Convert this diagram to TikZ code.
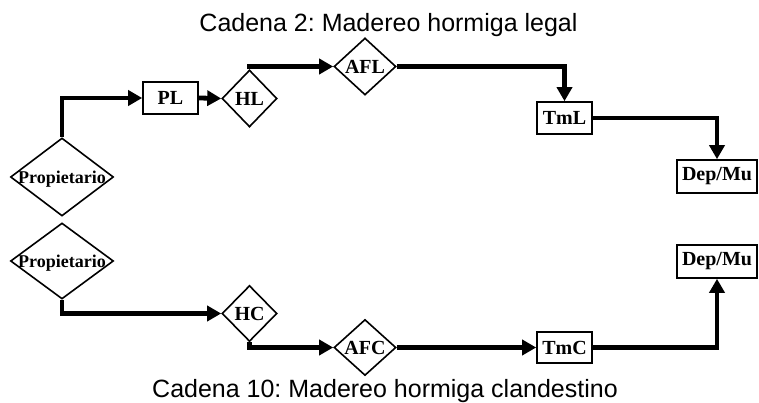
\documentclass[tikz,border=0pt]{standalone}
\usepackage{fontspec}
\setmainfont{Liberation Serif}
\setsansfont{Liberation Sans}
\usetikzlibrary{shapes.geometric,arrows.meta}
\newcommand{\zbox}[1]{\makebox[0pt]{\smash{#1}}}
\begin{document}
\frenchspacing
\begin{tikzpicture}[x=1pt,y=1pt,
  box/.style={draw,line width=1.6pt,rectangle,inner sep=0pt,minimum height=32pt,font=\fontsize{20}{22}\selectfont\bfseries},
  dia/.style={draw,line width=1.6pt,diamond,inner sep=0pt,font=\fontsize{20}{22}\selectfont\bfseries},
  prop/.style={dia,minimum width=103pt,font=\fontsize{18}{20}\selectfont\bfseries},
  flow/.style={line width=4.8pt,-{Triangle[length=14pt,width=15pt]}},
  ttl/.style={font=\sffamily\fontsize{25}{28}\selectfont,anchor=base,inner sep=0pt}]
\useasboundingbox (0,0) rectangle (759,403);
\node[ttl] (t1) at (388.5,371) {Cadena 2: Madereo hormiga legal};
\node[ttl] (t2) at (385,5) {Cadena 10: Madereo hormiga clandestino};
% upper chain
\node[prop,minimum height=78pt] (P1) at (62,226) {\zbox{\raisebox{-0.35em}{Propietario}}};
\node[box,minimum width=55pt] (PL) at (170.5,305) {PL};
\node[dia,minimum width=55pt,minimum height=57pt] (HL) at (249.5,304.5) {\zbox{\raisebox{-0.35em}{HL}}};
\node[dia,minimum width=62pt,minimum height=57pt] (AFL) at (365,336.5) {\zbox{\raisebox{-0.35em}{AFL}}};
\node[box,minimum width=55pt] (TmL) at (564.5,285) {TmL};
\node[box,minimum width=80pt,minimum height=33pt] (D1) at (717,226.5) {Dep/Mu};
% lower chain
\node[prop,minimum height=76pt] (P2) at (62,142) {\zbox{\raisebox{-0.35em}{Propietario}}};
\node[dia,minimum width=55pt,minimum height=56pt] (HC) at (249.5,89.5) {\zbox{\raisebox{-0.35em}{HC}}};
\node[dia,minimum width=62pt,minimum height=56pt] (AFC) at (365,55.5) {\zbox{\raisebox{-0.35em}{AFC}}};
\node[box,minimum width=55pt,minimum height=31pt] (TmC) at (564.5,55.5) {TmC};
\node[box,minimum width=80pt,minimum height=33pt] (D2) at (717,141.5) {Dep/Mu};
% connectors
\draw[flow] (P1.north) |- (PL.west);
\draw[flow] (PL.east) -- (HL.west);
\draw[flow] (HL.north) |- (AFL.west);
\draw[flow] (AFL.east) -| (TmL.north);
\draw[flow] (TmL.east) -| (D1.north);
\draw[flow] (P2.south) |- (HC.west);
\draw[flow] (HC.south) |- (AFC.west);
\draw[flow] (AFC.east) -- (TmC.west);
\draw[flow] (TmC.east) -| (D2.south);
\end{tikzpicture}
\end{document}
